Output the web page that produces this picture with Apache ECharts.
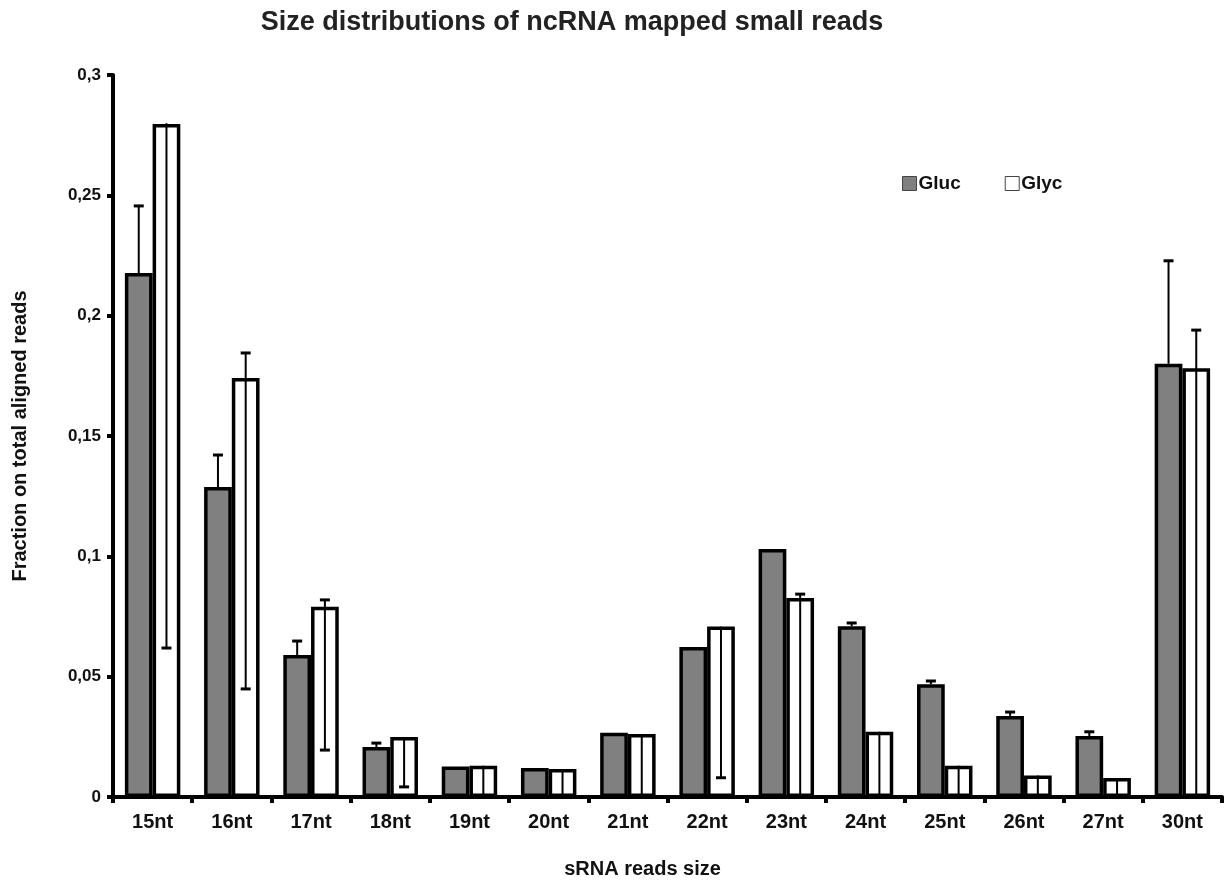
<!DOCTYPE html>
<html>
<head>
<meta charset="utf-8">
<script src="https://cdn.jsdelivr.net/npm/echarts@6/dist/echarts.min.js"></script>
<style>
    html, body { margin: 0; padding: 0; background: #fff; }
    #chart { width: 1230px; height: 883px; }
</style>
</head>
<body>
<div id="chart"></div>
<script>
var categories = ['15nt', '16nt', '17nt', '18nt', '19nt', '20nt', '21nt', '22nt', '23nt', '24nt', '25nt', '26nt', '27nt', '30nt'];
var gluc     = [0.2177, 0.1288, 0.0590, 0.0208, 0.0127, 0.0120, 0.0267, 0.0623, 0.1030, 0.0710, 0.0468, 0.0337, 0.0253, 0.1800];
var glucHigh = [0.2456, 0.1421, 0.0648, 0.0224, 0.0127, 0.0120, 0.0267, 0.0623, 0.1030, 0.0723, 0.0482, 0.0353, 0.0271, 0.2228];
var glyc     = [0.2796, 0.1741, 0.0790, 0.0249, 0.0130, 0.0116, 0.0262, 0.0708, 0.0827, 0.0271, 0.0130, 0.0089, 0.0079, 0.1781];
var glycHigh = [0.2800, 0.1845, 0.0819, 0.0249, 0.0130, 0.0116, 0.0262, 0.0708, 0.0843, 0.0271, 0.0130, 0.0089, 0.0079, 0.1940];
var glycLow  = [0.0619, 0.0449, 0.0195, 0.0042, 0, 0, 0, 0.0080, 0, 0, 0, 0, 0, 0];
var yTicks = [0, 0.05, 0.1, 0.15, 0.2, 0.25, 0.3];

var FONT = 'Liberation Sans';
var CAT_GAP = 0.3;

function errData(vals, lows, highs) {
    var out = [];
    for (var i = 0; i < vals.length; i++) {
        out.push([i, lows[i], highs[i], vals[i]]);
    }
    return out;
}

// side: -1 left bar (Gluc), +1 right bar (Glyc)
function errRenderer(side) {
    return function (params, api) {
        var band = api.size([1, 0])[0];
        var barW = band * (1 - CAT_GAP) / 2;
        var x = api.coord([api.value(0), 0])[0] + side * barW / 2;
        var lo = api.coord([0, api.value(1)])[1];
        var hi = api.coord([0, api.value(2)])[1];
        var v = api.coord([0, api.value(3)])[1];
        var cap = 5;
        var kids = [{
            type: 'line',
            shape: { x1: x, y1: hi, x2: x, y2: lo },
            style: { stroke: '#000', lineWidth: 2 }
        }];
        if (Math.abs(hi - v) > 1.5) {
            kids.push({ type: 'line', shape: { x1: x - cap, y1: hi, x2: x + cap, y2: hi }, style: { stroke: '#000', lineWidth: 3 } });
        }
        if (Math.abs(lo - v) > 1.5 && api.value(1) > 0) {
            kids.push({ type: 'line', shape: { x1: x - cap, y1: lo, x2: x + cap, y2: lo }, style: { stroke: '#000', lineWidth: 3 } });
        }
        return { type: 'group', children: kids };
    };
}

var myChart = echarts.init(document.getElementById('chart'));
myChart.setOption({
    animation: false,
    backgroundColor: '#fff',
    title: {
        text: 'Size distributions of ncRNA mapped small reads',
        left: 567,
        textAlign: 'center',
        top: 4,
        textStyle: { fontFamily: FONT, fontSize: 27, fontWeight: 'bold', color: '#222' }
    },
    legend: {
        data: ['Gluc', 'Glyc'],
        left: 897,
        top: 169,
        icon: 'rect',
        itemWidth: 14,
        itemHeight: 14,
        itemGap: 44,
        textStyle: { fontFamily: FONT, fontSize: 19, fontWeight: 'bold', color: '#111', padding: [0, 0, 0, -3] },
        itemStyle: { borderColor: '#444', borderWidth: 1 }
    },
    grid: { left: 113, right: 8, top: 75, bottom: 86, outerBoundsMode: 'none' },
    xAxis: {
        type: 'category',
        data: categories,
        name: 'sRNA reads size',
        nameLocation: 'middle',
        nameGap: 62,
        nameTextStyle: { fontFamily: FONT, fontSize: 20, fontWeight: 'bold', color: '#111', padding: [0, 50, 0, 0] },
        axisLine: { lineStyle: { color: '#000', width: 4 } },
        axisTick: { show: true, length: 6, lineStyle: { color: '#000', width: 4 } },
        axisLabel: { fontFamily: FONT, fontSize: 20, fontWeight: 'bold', color: '#111', margin: 15 }
    },
    yAxis: {
        type: 'value',
        min: 0,
        max: 0.3,
        interval: 0.05,
        name: 'Fraction on total aligned reads',
        nameLocation: 'middle',
        nameGap: 83,
        nameTextStyle: { fontFamily: FONT, fontSize: 20, fontWeight: 'bold', color: '#111' },
        axisLine: { show: true, lineStyle: { color: '#000', width: 4 } },
        axisTick: { show: true, length: 6, lineStyle: { color: '#000', width: 4 } },
        splitLine: { show: false },
        axisLabel: {
            fontFamily: FONT, fontSize: 17, fontWeight: 'bold', color: '#111', margin: 12,
            formatter: function (v) {
                return yTicks.indexOf(+v.toFixed(2)) >= 0 ? String(+v.toFixed(2)).replace('.', ',') : '';
            }
        }
    },
    series: [
        {
            name: 'Gluc',
            type: 'bar',
            data: gluc,
            barGap: '0%',
            barCategoryGap: '30%',
            itemStyle: { color: '#808080', borderColor: '#000', borderWidth: 3.5 }
        },
        {
            name: 'Glyc',
            type: 'bar',
            data: glyc,
            barGap: '0%',
            barCategoryGap: '30%',
            itemStyle: { color: '#fff', borderColor: '#000', borderWidth: 3.5 }
        },
        {
            type: 'custom',
            renderItem: errRenderer(-1),
            data: errData(gluc, gluc, glucHigh),
            z: 3
        },
        {
            type: 'custom',
            renderItem: errRenderer(1),
            data: errData(glyc, glycLow, glycHigh),
            z: 3
        }
    ]
});
</script>
</body>
</html>
